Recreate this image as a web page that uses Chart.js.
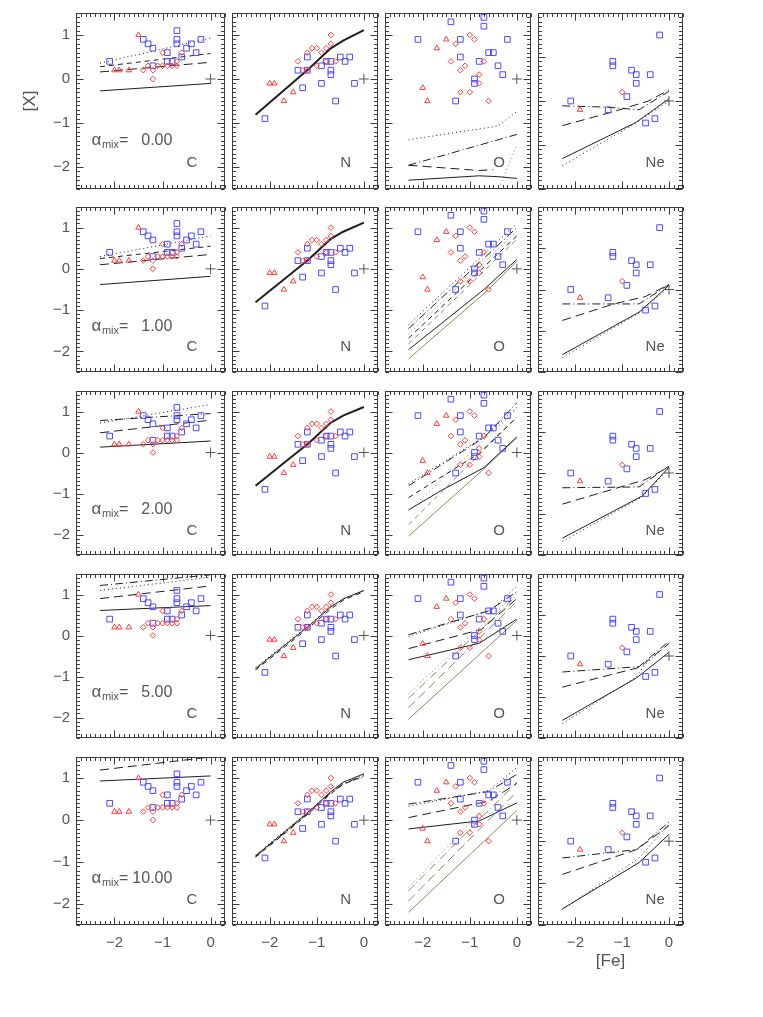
<!DOCTYPE html>
<html><head><meta charset="utf-8">
<script src="https://cdn.jsdelivr.net/npm/chart.js@4.4.1/dist/chart.umd.min.js"></script>
<style>
html,body{margin:0;padding:0;background:#fff;}
#wrap{position:relative;width:763px;height:1017px;overflow:hidden;background:#fff;}
#wrap canvas{position:absolute;}
</style></head><body><div id="wrap"></div>
<script>
// ================= DATA =================
const elements = ['C', 'N', 'O', 'Ne'];
const alphaMix = [' 0.00', ' 1.00', ' 2.00', ' 5.00', '10.00'];
const xTicks = [-2, -1, 0];
const yTicks = [-2, -1, 0, 1];

// observations (same in every row)
const C_sq_x  = [-2.1,-1.4,-1.3,-1.2,-1.2,-0.9,-0.9,-0.8,-0.7,-0.7,-0.7,-0.6,-0.5,-0.4,-0.3,-0.2];
const C_sq_y  = [0.4,0.9,0.8,0.7,0.3,0.6,0.4,0.4,1.1,0.9,0.8,0.5,0.7,0.8,0.6,0.9];
const C_tri_x = [-2.0,-1.9,-1.7,-1.5];
const C_tri_y = [0.2,0.2,0.2,1.0];
const C_dia_x = [-1.4,-1.3,-1.2,-1.2,-1.1,-1.0,-1.0,-0.9,-0.8,-0.7,-0.7,-0.6];
const C_dia_y = [0.2,0.3,0.2,0.0,0.3,0.3,0.6,0.3,0.3,0.3,0.4,0.6];

const N_sq_x  = [-2.1,-1.4,-1.3,-1.2,-1.2,-0.9,-0.9,-0.8,-0.7,-0.7,-0.7,-0.6,-0.5,-0.4,-0.3,-0.2];
const N_sq_y  = [-0.9,0.2,-0.2,0.5,0.2,0.3,-0.1,0.4,0.4,0.2,0.1,-0.5,0.5,0.4,0.5,-0.1];
const N_tri_x = [-2.0,-1.9,-1.7,-1.5];
const N_tri_y = [-0.1,-0.1,-0.5,-0.3];
const N_dia_x = [-1.4,-1.3,-1.2,-1.2,-1.1,-1.0,-1.0,-0.9,-0.8,-0.8,-0.7,-0.7,-0.6];
const N_dia_y = [0.4,0.2,0.2,0.6,0.7,0.7,0.3,0.6,0.7,0.4,1.0,0.8,0.4];

const O_sq_x  = [-1.4,-0.7,-0.7,-2.1,-1.2,-0.2,-1.2,-0.8,-0.6,-0.5,-0.4,-0.3,-0.9,-0.9,-1.3];
const O_sq_y  = [1.3,1.4,1.2,0.9,0.9,0.9,0.5,0.4,0.6,0.6,0.3,0.1,0.0,-0.1,-0.5];
const O_tri_x = [-1.5,-1.7,-2.0,-1.9];
const O_tri_y = [0.9,0.7,-0.2,-0.5];
const O_dia_x = [-1.0,-0.9,-1.3,-1.4,-1.1,-1.2,-0.8,-0.8,-0.7,-1.2,-1.0,-0.6];
const O_dia_y = [1.0,0.9,0.8,0.4,0.3,0.2,0.1,-0.1,0.4,-0.3,-0.3,-0.5];

const Ne_sq_x  = [-0.2,-1.2,-1.2,-0.8,-0.7,-0.4,-0.7,-0.9,-2.1,-1.3,-0.5,-0.3];
const Ne_sq_y  = [1.5,0.9,0.8,0.7,0.6,0.6,0.4,0.1,0.0,-0.2,-0.5,-0.4];
const Ne_tri_x = [-1.9];
const Ne_tri_y = [-0.2];
const Ne_dia_x = [-1.0];
const Ne_dia_y = [0.2];

// model curves: [series kind, x values, y values]
const C_mix0 = [
  ['solid',   [-2.3, 0], [-0.27, -0.10]],
  ['longdash',[-2.3, 0], [0.16, 0.38]],
  ['dashed',  [-2.3, 0], [0.28, 0.58]],
  ['dotted',  [-2.3, 0], [0.36, 0.93]]];
const C_mix1 = [
  ['solid',   [-2.3, 0], [-0.38, -0.18]],
  ['longdash',[-2.3, 0], [0.10, 0.35]],
  ['dashed',  [-2.3, 0], [0.25, 0.55]],
  ['dotted',  [-2.3, 0], [0.30, 0.80]]];
const C_mix2 = [
  ['solid',   [-2.3, 0], [0.13, 0.28]],
  ['longdash',[-2.3, 0], [0.48, 0.79]],
  ['dashdot', [-2.3, 0], [0.78, 0.95]],
  ['dotted',  [-2.3, 0], [0.72, 1.17]]];
const C_mix3 = [
  ['solid',   [-2.3, 0], [0.61, 0.73]],
  ['longdash',[-2.3, 0], [0.90, 1.21]],
  ['dotted',  [-2.3, 0], [1.10, 1.42]],
  ['dashdot', [-2.3, 0], [1.22, 1.48]]];
const C_mix4 = [
  ['solid',   [-2.3, 0], [0.93, 1.05]],
  ['longdash',[-2.3, 0], [1.19, 1.50]],
  ['dotted',  [-2.3, 0], [1.47, 1.72]],
  ['dashdot', [-2.3, 0], [1.55, 1.80]]];

const N_x = [-2.3, -1.66, -1.18, -0.71, -0.44, 0];
const N_mix0 = [['thick', N_x, [-0.81,-0.22,0.22,0.69,0.87,1.11]]];
const N_mix1 = [['thick', N_x, [-0.81,-0.22,0.22,0.72,0.90,1.12]]];
const N_mix2 = [['thick', N_x, [-0.81,-0.22,0.22,0.72,0.90,1.11]]];
const N_mix3 = [
  ['solid',  N_x, [-0.81,-0.22,0.22,0.69,0.89,1.10]],
  ['dashed', N_x, [-0.84,-0.26,0.18,0.64,0.86,1.07]],
  ['dotted', N_x, [-0.78,-0.20,0.24,0.70,0.90,1.09]]];
const N_mix4 = [
  ['solid',  N_x, [-0.85,-0.26,0.19,0.67,0.90,1.10]],
  ['dashed', N_x, [-0.88,-0.30,0.15,0.62,0.85,1.05]],
  ['dotted', N_x, [-0.83,-0.24,0.20,0.66,0.87,1.02]],
  ['dashdot',N_x, [-0.86,-0.28,0.17,0.64,0.86,1.07]]];

const O_mix0 = [
  ['dotted',     [-2.3,-0.4,0], [-1.38,-1.07,-0.74]],
  ['dashdot',    [-2.3,0], [-1.96,-1.26]],
  ['longdash',   [-2.3,-0.8,-0.5], [-1.96,-2.08,-2.06]],
  ['solid',      [-2.3,-0.8,-0.4,0], [-2.30,-2.20,-2.22,-2.26]],
  ['oliveDotted',[-0.35,0], [-2.4,-1.5]]];
const O_mix1 = [
  ['dotted',     [-2.3,0], [-1.35,1.10]],
  ['dashdot',    [-2.3,0], [-1.45,1.00]],
  ['oliveDotted',[-2.3,0], [-1.58,0.92]],
  ['dashed',     [-2.3,0], [-1.68,0.80]],
  ['oliveDashed',[-2.3,0], [-1.82,0.72]],
  ['solid',      [-2.3,-0.7,0], [-1.96,-0.50,0.23]],
  ['oliveSolid', [-2.3,-0.7,0], [-2.18,-0.60,0.18]]];
const O_mix2 = [
  ['solid',      [-2.3,-1.58,-0.7,0], [-1.40,-0.91,-0.37,0.38]],
  ['oliveSolid', [-2.3,-0.7,0], [-2.04,-0.40,0.36]],
  ['dashdot',    [-2.3,-0.7,0], [-0.81,0.36,1.21]],
  ['dotted',     [-2.3,-0.7,0], [-0.76,0.38,1.10]],
  ['dashed',     [-2.3,-0.8,0], [-1.10,-0.02,0.86]],
  ['oliveDotted',[-2.3,0], [-1.42,1.05]],
  ['oliveDashed',[-2.3,0], [-1.76,0.86]]];
const O_mix3 = [
  ['solid',        [-2.3,-0.8,0], [-0.59,-0.19,0.40]],
  ['longdash',     [-2.3,-0.75,0], [-0.32,0.15,0.90]],
  ['dotted',       [-2.3,-0.53,0], [-0.02,0.63,1.21]],
  ['dashdot',      [-2.3,-0.6,0], [0.02,0.60,1.07]],
  ['oliveSolid',   [-2.3,0], [-2.04,0.37]],
  ['oliveLongdash',[-2.3,0], [-1.76,0.83]],
  ['oliveDotted',  [-2.3,0], [-1.42,1.05]],
  ['oliveDashdot', [-2.3,0], [-1.53,0.98]]];
const O_mix4 = [
  ['solid',        [-2.3,-0.8,0], [-0.21,-0.02,0.41]],
  ['longdash',     [-2.3,-0.6,0], [0.06,0.45,0.87]],
  ['dotted',       [-2.3,-0.6,0], [0.33,0.70,1.25]],
  ['dashdot',      [-2.3,-0.6,0], [0.38,0.68,1.09]],
  ['oliveSolid',   [-2.3,0], [-2.19,0.23]],
  ['oliveLongdash',[-2.3,0], [-1.92,0.68]],
  ['oliveDotted',  [-2.3,0], [-1.60,1.09]],
  ['oliveDashdot', [-2.3,0], [-1.68,0.90]]];

const Ne_mix0 = [
  ['dashdot', [-2.28,-1.32,-0.64,0], [-0.11,-0.14,-0.20,0.22]],
  ['longdash',[-2.28,-1.18,-0.44,0], [-0.56,-0.24,0.00,0.25]],
  ['solid',   [-2.28,-0.71,0], [-1.31,-0.49,0.05]],
  ['dotted',  [-2.28,-0.71,0], [-1.47,-0.50,0.00]]];
const Ne_mix1 = [
  ['dashdot', [-2.28,-0.64,0], [-0.35,-0.35,0.12]],
  ['longdash',[-2.28,-1.18,-0.5,0], [-0.75,-0.35,-0.17,0.12]],
  ['solid',   [-2.28,-0.64,0], [-1.58,-0.55,0.10]],
  ['dotted',  [-2.28,-0.64,0], [-1.65,-0.57,0.05]]];
const Ne_mix2 = [
  ['dashdot', [-2.28,-0.64,0], [-0.36,-0.34,0.17]],
  ['longdash',[-2.28,-0.5,0], [-0.76,-0.16,0.15]],
  ['solid',   [-2.28,-0.57,0], [-1.59,-0.56,0.14]],
  ['dotted',  [-2.28,-0.57,0], [-1.67,-0.58,0.12]]];
const Ne_mix3 = [
  ['dashdot', [-2.28,-0.64,0], [-0.39,-0.26,0.36]],
  ['longdash',[-2.28,-0.64,0], [-0.76,-0.28,0.30]],
  ['solid',   [-2.28,-0.7,0], [-1.57,-0.54,0.09]],
  ['dotted',  [-2.28,-0.7,-0.55,0], [-1.65,-0.52,-0.25,0.32]]];
const Ne_mix4 = [
  ['dashdot', [-2.28,-0.69,0], [-0.40,-0.20,0.45]],
  ['longdash',[-2.28,-0.69,0], [-0.79,-0.20,0.37]],
  ['solid',   [-2.28,-0.64,0], [-1.61,-0.51,0.16]],
  ['dotted',  [-2.28,-0.64,0], [-1.63,-0.40,0.40]]];

// ================= STYLE / LAYOUT =================
const BLUE = 'rgb(75,75,255)', RED = 'rgb(255,60,60)', DARK = '#1e1e1e', OLIVE = 'rgb(138,138,96)';
const AXIS = '#3c3c3c', TEXT = '#555555';
const FONT = "'Liberation Sans', Arial, Helvetica, sans-serif";
const LINE_STYLE = {
  solid:{c:DARK,d:[],w:1}, thick:{c:DARK,d:[],w:2}, dotted:{c:DARK,d:[1,3],w:1},
  dashed:{c:DARK,d:[5,4],w:1}, longdash:{c:DARK,d:[9,5],w:1}, dashdot:{c:DARK,d:[8,3,1,3],w:1},
  oliveSolid:{c:OLIVE,d:[],w:1}, oliveDotted:{c:OLIVE,d:[1,3],w:1}, oliveDashed:{c:OLIVE,d:[5,4],w:1},
  oliveLongdash:{c:OLIVE,d:[9,5],w:1}, oliveDashdot:{c:OLIVE,d:[8,3,1,3],w:1}
};
const OBS = {
  C:{sq:[C_sq_x,C_sq_y],tri:[C_tri_x,C_tri_y],dia:[C_dia_x,C_dia_y]},
  N:{sq:[N_sq_x,N_sq_y],tri:[N_tri_x,N_tri_y],dia:[N_dia_x,N_dia_y]},
  O:{sq:[O_sq_x,O_sq_y],tri:[O_tri_x,O_tri_y],dia:[O_dia_x,O_dia_y]},
  Ne:{sq:[Ne_sq_x,Ne_sq_y],tri:[Ne_tri_x,Ne_tri_y],dia:[Ne_dia_x,Ne_dia_y]}
};
const MODELS = {
  C:[C_mix0,C_mix1,C_mix2,C_mix3,C_mix4],
  N:[N_mix0,N_mix1,N_mix2,N_mix3,N_mix4],
  O:[O_mix0,O_mix1,O_mix2,O_mix3,O_mix4],
  Ne:[Ne_mix0,Ne_mix1,Ne_mix2,Ne_mix3,Ne_mix4]
};
const X_RANGE = [-2.8, 0.3];
const Y_RANGE = {C:[-2.5,1.5], N:[-2.5,1.5], O:[-2.5,1.5], Ne:[-2,2]};

const COL_L = [76, 228.7, 381.4, 534.1], COL_W = 152.7;
const ROW_T = [9.3, 203.3, 387, 570, 753], ROW_H = [183.4, 172.4, 171.7, 171.7, 172.3];
const XAXIS_H = 60;

function pts(xs, ys){ return xs.map((x,i)=>({x:x, y:ys[i]})); }
function fmt(v){ return (v < 0 ? '\u2212' : '') + Math.abs(v); }

const panelPlugin = {
  id: 'panelDecor',
  afterDraw(chart, args, o) {
    const ctx = chart.ctx, a = chart.chartArea, xs = chart.scales.x, ys = chart.scales.y;
    ctx.save();
    ctx.strokeStyle = AXIS; ctx.lineWidth = 1; ctx.setLineDash([]);
    const line = (x1,y1,x2,y2)=>{ctx.beginPath();ctx.moveTo(x1,y1);ctx.lineTo(x2,y2);ctx.stroke();};
    const L = Math.round(a.left)+0.5, R = Math.round(a.right)-0.5, T = Math.round(a.top)+0.5, B = Math.round(a.bottom)-0.5;
    ctx.strokeRect(L, T, R-L, B-T);
    for (let i = Math.ceil(xs.min*10); i <= Math.floor(xs.max*10); i++) {
      const p = Math.round(xs.getPixelForValue(i/10)) + 0.5;
      const len = (i % 10 === 0) ? 7 : 3.5;
      line(p, T, p, T+len); line(p, B, p, B-len);
    }
    for (let i = Math.ceil(ys.min*10); i <= Math.floor(ys.max*10); i++) {
      const p = Math.round(ys.getPixelForValue(i/10)) + 0.5;
      const len = (i % 10 === 0) ? 7 : 3.5;
      line(L, p, L+len, p); line(R, p, R-len, p);
    }
    ctx.fillStyle = TEXT; ctx.textBaseline = 'alphabetic';
    ctx.font = '15px ' + FONT; ctx.textAlign = 'left';
    ctx.fillText(o.elem, xs.getPixelForValue(-0.5), ys.getPixelForValue(o.elem === 'Ne' ? -1.5 : -2.0));
    if (o.alpha) {
      const x0 = xs.getPixelForValue(-2.48), b = ys.getPixelForValue(-1.5);
      ctx.font = '17px ' + FONT; ctx.fillText('\u03b1', x0, b);
      ctx.font = '11px ' + FONT; ctx.fillText('mix', x0 + 10.5, b + 3);
      ctx.font = '16px ' + FONT; ctx.fillText('=', x0 + 27.5, b);
      ctx.textAlign = 'right'; ctx.fillText(o.alpha.trim(), x0 + 81, b);
    }
    ctx.restore();
  }
};

const wrap = document.getElementById('wrap');
for (let r = 0; r < 5; r++) {
  for (let c = 0; c < 4; c++) {
    const el = elements[c];
    const showX = r === 4, showY = c === 0;
    const left = showY ? 0 : Math.floor(COL_L[c]) - 2;
    const right = Math.ceil(COL_L[c] + COL_W) + 2;
    const top = Math.floor(ROW_T[r]) - 2;
    const bottom = Math.ceil(ROW_T[r] + ROW_H[r]) + 2 + (showX ? XAXIS_H : 0);
    const cv = document.createElement('canvas');
    cv.width = right - left; cv.height = bottom - top;
    cv.style.left = left + 'px'; cv.style.top = top + 'px';
    cv.style.width = cv.width + 'px'; cv.style.height = cv.height + 'px';
    wrap.appendChild(cv);
    const pad = {
      left: showY ? 0 : COL_L[c] - left,
      right: right - (COL_L[c] + COL_W),
      top: ROW_T[r] - top,
      bottom: bottom - (ROW_T[r] + ROW_H[r]) - (showX ? XAXIS_H : 0)
    };
    const o = OBS[el];
    const datasets = [
      {label:'Sun', data:[{x:0,y:0}], pointStyle:'cross', pointRadius:5, pointBorderColor:TEXT, borderColor:TEXT, pointBorderWidth:1, showLine:false},
      {label:'diamonds', data:pts(o.dia[0],o.dia[1]), pointStyle:'rectRot', pointRadius:2.8, pointBorderColor:RED, borderColor:RED, pointBackgroundColor:'rgba(0,0,0,0)', pointBorderWidth:1, showLine:false, clip:false},
      {label:'triangles', data:pts(o.tri[0],o.tri[1]), pointStyle:'triangle', pointRadius:3.2, pointBorderColor:RED, borderColor:RED, pointBackgroundColor:'rgba(0,0,0,0)', pointBorderWidth:1, showLine:false, clip:false},
      {label:'squares', data:pts(o.sq[0],o.sq[1]), pointStyle:'rect', pointRadius:4, pointBorderColor:BLUE, borderColor:BLUE, pointBackgroundColor:'rgba(0,0,0,0)', pointBorderWidth:1, showLine:false, clip:false}
    ];
    for (const [kind, xs, ys] of MODELS[el][r]) {
      const s = LINE_STYLE[kind];
      datasets.push({label:kind, data:pts(xs, ys), showLine:true, pointRadius:0, borderColor:s.c, borderDash:s.d, borderWidth:s.w, tension:0, fill:false});
    }
    const tickFont = {family: FONT, size: 15};
    new Chart(cv, {
      type: 'scatter',
      data: {datasets},
      options: {
        responsive: false, animation: false, devicePixelRatio: 1, events: [],
        layout: {padding: pad},
        plugins: {legend:{display:false}, tooltip:{enabled:false}, panelDecor:{elem: el, alpha: c === 0 ? alphaMix[r] : null}},
        scales: {
          x: {
            type: 'linear', min: X_RANGE[0], max: X_RANGE[1], display: showX,
            grid: {display:false, drawTicks:false}, border: {display:false},
            ticks: {padding: 9, color: TEXT, font: tickFont, maxRotation: 0, autoSkip: false, callback: v => fmt(v)},
            afterBuildTicks: s => { s.ticks = xTicks.map(v => ({value: v})); },
            title: {display: showX && c === 3, text: '[Fe]', color: TEXT, font: {family: FONT, size: 17}, padding: {top: 0, bottom: 14}},
            afterFit: s => { if (showX) { s.height = XAXIS_H; s.paddingLeft = 0; s.paddingRight = 0; } }
          },
          y: {
            type: 'linear', min: Y_RANGE[el][0], max: Y_RANGE[el][1], display: showY,
            grid: {display:false, drawTicks:false}, border: {display:false},
            ticks: {padding: 6, color: TEXT, font: tickFont, autoSkip: false, callback: v => fmt(v)},
            afterBuildTicks: s => { s.ticks = yTicks.map(v => ({value: v})); },
            title: {display: r === 0 && showY, text: '[X]', color: TEXT, font: {family: FONT, size: 17}, padding: {top: 20, bottom: 0}},
            afterFit: s => { if (showY) { s.width = COL_L[0]; s.paddingTop = 0; s.paddingBottom = 0; } }
          }
        }
      },
      plugins: [panelPlugin]
    });
  }
}
</script></body></html>
